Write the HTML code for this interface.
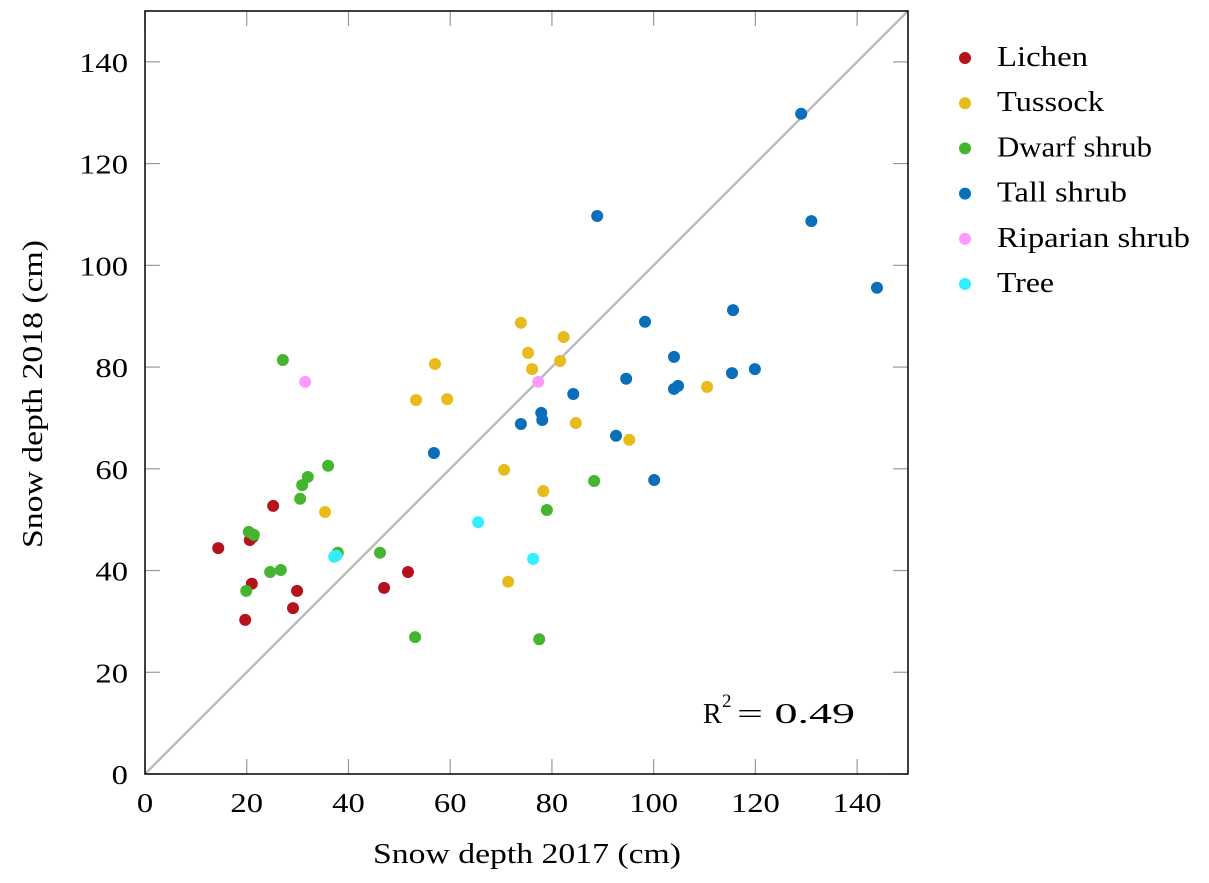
<!DOCTYPE html>
<html><head><meta charset="utf-8"><style>
body{margin:0;background:#fff;}
svg{display:block;font-family:"Liberation Serif",serif;}
</style></head><body>
<svg id="chart" width="1209" height="883" viewBox="0 0 1209 883" xmlns="http://www.w3.org/2000/svg"></svg>
<script>
const categories=["Lichen","Tussock","Dwarf shrub","Tall shrub","Riparian shrub","Tree"];
const colors=["#b5121b","#e6bb1a","#44b52f","#0a6fba","#ff99ff","#33eeff"];
const lichenX=[14.4,20.6,21.2,25.2,21.0,29.9,19.7,29.1,51.7,47.0];
const lichenY=[44.4,46.0,46.6,52.7,37.4,36.0,30.3,32.6,39.7,36.6];
const tussockX=[73.9,82.3,75.3,57.0,81.6,76.1,53.3,59.4,84.7,95.2,110.5,70.6,78.3,35.4,71.4];
const tussockY=[88.7,85.9,82.8,80.6,81.2,79.6,73.5,73.7,69.0,65.7,76.1,59.8,55.6,51.5,37.8];
const dwarfX=[27.1,36.0,32.0,30.9,30.5,20.4,21.4,37.9,46.2,24.6,26.7,19.9,53.1,77.5,88.3,79.0];
const dwarfY=[81.4,60.6,58.4,56.8,54.1,47.6,47.0,43.5,43.5,39.7,40.1,36.0,26.9,26.5,57.6,51.9];
const tallX=[129.0,131.0,88.9,143.9,115.6,98.3,104.0,94.6,104.8,104.0,115.4,119.9,84.2,77.9,78.1,73.9,92.6,100.1,56.8];
const tallY=[129.8,108.7,109.7,95.6,91.2,88.9,82.0,77.7,76.3,75.7,78.8,79.6,74.7,71.0,69.6,68.8,66.5,57.8,63.1];
const ripX=[31.5,77.3];
const ripY=[77.1,77.1];
const treeX=[65.5,76.3,37.2,37.6];
const treeY=[49.5,42.3,42.7,42.9];
const seriesX=[lichenX,tussockX,dwarfX,tallX,ripX,treeX];
const seriesY=[lichenY,tussockY,dwarfY,tallY,ripY,treeY];
const ticks=[0,20,40,60,80,100,120,140];
const legendWidths=[91,107,155,130,193,57];
const L=145,R=908,T=11,B=774,MAX=150;
const sx=v=>L+(R-L)*v/MAX, sy=v=>B-(B-T)*v/MAX;
const svg=document.getElementById('chart');
const NS='http://www.w3.org/2000/svg';
function mk(t,a,txt){const e=document.createElementNS(NS,t);for(const k in a)e.setAttribute(k,a[k]);if(txt!==undefined)e.textContent=txt;svg.appendChild(e);return e;}
let e;
e=mk('line',{x1:sx(0),y1:sy(0),x2:sx(MAX),y2:sy(MAX),stroke:'#bbbbbb','stroke-width':2.5});


ticks.forEach(t=>{
 const tk={stroke:'#999','stroke-width':1.2};
 mk('line',Object.assign({x1:sx(t),y1:B,x2:sx(t),y2:B-15},tk));
 mk('line',Object.assign({x1:sx(t),y1:T,x2:sx(t),y2:T+15},tk));
 mk('line',Object.assign({x1:L,y1:sy(t),x2:L+15,y2:sy(t)},tk));
 mk('line',Object.assign({x1:R,y1:sy(t),x2:R-15,y2:sy(t)},tk));
 const w=String(t).length*16.3;
 e=mk('text',{x:sx(t),y:B+38,'text-anchor':'middle','font-size':27,textLength:w,lengthAdjust:'spacingAndGlyphs'},String(t));
 
 
 e=mk('text',{x:L-17,y:sy(t)+10,'text-anchor':'end','font-size':27,textLength:w,lengthAdjust:'spacingAndGlyphs'},String(t));
 
 
});
seriesX.forEach((xs,i)=>{
 xs.forEach((x,j)=>{
  e=mk('circle',{cx:sx(x),cy:sy(seriesY[i][j]),r:6,fill:colors[i]});
  
  
 });
 e=mk('circle',{cx:965,cy:58+45.2*i,r:6,fill:colors[i]});
 
 
 e=mk('text',{x:997,y:66+45.2*i,'font-size':29,textLength:legendWidths[i],lengthAdjust:'spacingAndGlyphs'},categories[i]);
 
 
});
e=mk('rect',{x:L,y:T,width:R-L,height:B-T,fill:'none',stroke:'#000','stroke-width':1.5});


e=mk('text',{x:527,y:863,'text-anchor':'middle','font-size':29,textLength:308,lengthAdjust:'spacingAndGlyphs'},'Snow depth 2017 (cm)');


e=mk('text',{x:0,y:0,'text-anchor':'middle','font-size':29,textLength:308,lengthAdjust:'spacingAndGlyphs',transform:'translate(42,394) rotate(-90)'},'Snow depth 2018 (cm)');


e=mk('text',{x:703,y:723,'font-size':28},'R');


mk('text',{x:722,y:707,'font-size':19},'2');
mk('text',{x:737,y:723,'font-size':28,textLength:118,lengthAdjust:'spacingAndGlyphs'},'= 0.49');
</script>
</body></html>
